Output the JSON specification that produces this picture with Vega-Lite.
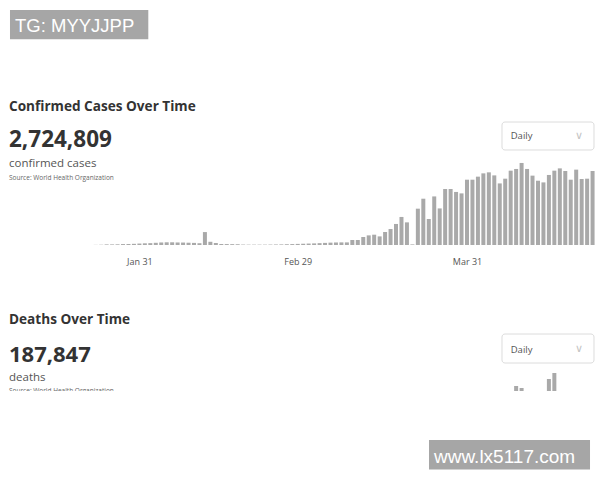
{
  "$schema": "https://vega.github.io/schema/vega-lite/v6.json",
  "padding": 0,
  "background": "white",
  "bounds": "flush",
  "spacing": 55,
  "config": {"view": {"stroke": null}, "font": "Open Sans", "scale": {"continuousPadding": 0}},
  "datasets": {
    "daily": [
      {"date":"2020-01-23","cases":150,"deaths":8},
      {"date":"2020-01-24","cases":300,"deaths":16},
      {"date":"2020-01-25","cases":700,"deaths":15},
      {"date":"2020-01-26","cases":700,"deaths":24},
      {"date":"2020-01-27","cases":800,"deaths":26},
      {"date":"2020-01-28","cases":1100,"deaths":26},
      {"date":"2020-01-29","cases":1200,"deaths":38},
      {"date":"2020-01-30","cases":1400,"deaths":43},
      {"date":"2020-01-31","cases":1700,"deaths":46},
      {"date":"2020-02-01","cases":2000,"deaths":45},
      {"date":"2020-02-02","cases":2200,"deaths":57},
      {"date":"2020-02-03","cases":2600,"deaths":64},
      {"date":"2020-02-04","cases":3000,"deaths":66},
      {"date":"2020-02-05","cases":3200,"deaths":73},
      {"date":"2020-02-06","cases":3200,"deaths":73},
      {"date":"2020-02-07","cases":3000,"deaths":86},
      {"date":"2020-02-08","cases":2900,"deaths":89},
      {"date":"2020-02-09","cases":2700,"deaths":97},
      {"date":"2020-02-10","cases":2500,"deaths":108},
      {"date":"2020-02-11","cases":2100,"deaths":97},
      {"date":"2020-02-12","cases":15300,"deaths":254},
      {"date":"2020-02-13","cases":3800,"deaths":121},
      {"date":"2020-02-14","cases":2400,"deaths":143},
      {"date":"2020-02-15","cases":1200,"deaths":142},
      {"date":"2020-02-16","cases":1100,"deaths":105},
      {"date":"2020-02-17","cases":1000,"deaths":98},
      {"date":"2020-02-18","cases":900,"deaths":136},
      {"date":"2020-02-19","cases":500,"deaths":115},
      {"date":"2020-02-20","cases":400,"deaths":118},
      {"date":"2020-02-21","cases":400,"deaths":109},
      {"date":"2020-02-22","cases":400,"deaths":97},
      {"date":"2020-02-23","cases":400,"deaths":150},
      {"date":"2020-02-24","cases":500,"deaths":71},
      {"date":"2020-02-25","cases":600,"deaths":52},
      {"date":"2020-02-26","cases":700,"deaths":29},
      {"date":"2020-02-27","cases":900,"deaths":44},
      {"date":"2020-02-28","cases":1100,"deaths":47},
      {"date":"2020-02-29","cases":1300,"deaths":35},
      {"date":"2020-03-01","cases":1500,"deaths":42},
      {"date":"2020-03-02","cases":1700,"deaths":66},
      {"date":"2020-03-03","cases":1900,"deaths":38},
      {"date":"2020-03-04","cases":2200,"deaths":57},
      {"date":"2020-03-05","cases":2500,"deaths":64},
      {"date":"2020-03-06","cases":2800,"deaths":65},
      {"date":"2020-03-07","cases":3000,"deaths":101},
      {"date":"2020-03-08","cases":3100,"deaths":103},
      {"date":"2020-03-09","cases":3100,"deaths":200},
      {"date":"2020-03-10","cases":5900,"deaths":210},
      {"date":"2020-03-11","cases":5900,"deaths":270},
      {"date":"2020-03-12","cases":9500,"deaths":330},
      {"date":"2020-03-13","cases":11400,"deaths":390},
      {"date":"2020-03-14","cases":12200,"deaths":430},
      {"date":"2020-03-15","cases":10200,"deaths":360},
      {"date":"2020-03-16","cases":15400,"deaths":830},
      {"date":"2020-03-17","cases":18900,"deaths":960},
      {"date":"2020-03-18","cases":24900,"deaths":840},
      {"date":"2020-03-19","cases":33200,"deaths":1100},
      {"date":"2020-03-20","cases":26800,"deaths":1300},
      {"date":"2020-03-21","cases":700,"deaths":1400},
      {"date":"2020-03-22","cases":43000,"deaths":1700},
      {"date":"2020-03-23","cases":54800,"deaths":1800},
      {"date":"2020-03-24","cases":30800,"deaths":1700},
      {"date":"2020-03-25","cases":57500,"deaths":2400},
      {"date":"2020-03-26","cases":43300,"deaths":2300},
      {"date":"2020-03-27","cases":66300,"deaths":2800},
      {"date":"2020-03-28","cases":66300,"deaths":3400},
      {"date":"2020-03-29","cases":62800,"deaths":3200},
      {"date":"2020-03-30","cases":61100,"deaths":3500},
      {"date":"2020-03-31","cases":77300,"deaths":3800},
      {"date":"2020-04-01","cases":77300,"deaths":4400},
      {"date":"2020-04-02","cases":80900,"deaths":4800},
      {"date":"2020-04-03","cases":84800,"deaths":5200},
      {"date":"2020-04-04","cases":86000,"deaths":5800},
      {"date":"2020-04-05","cases":82400,"deaths":6200},
      {"date":"2020-04-06","cases":72900,"deaths":5000},
      {"date":"2020-04-07","cases":78500,"deaths":5600},
      {"date":"2020-04-08","cases":88000,"deaths":6400},
      {"date":"2020-04-09","cases":90000,"deaths":7200},
      {"date":"2020-04-10","cases":97100,"deaths":7000},
      {"date":"2020-04-11","cases":90000,"deaths":6600},
      {"date":"2020-04-12","cases":82100,"deaths":5900},
      {"date":"2020-04-13","cases":76100,"deaths":5400},
      {"date":"2020-04-14","cases":74100,"deaths":5500},
      {"date":"2020-04-15","cases":82900,"deaths":7900},
      {"date":"2020-04-16","cases":88000,"deaths":8500},
      {"date":"2020-04-17","cases":90700,"deaths":6600},
      {"date":"2020-04-18","cases":87600,"deaths":6300},
      {"date":"2020-04-19","cases":77300,"deaths":5900},
      {"date":"2020-04-20","cases":89200,"deaths":4700},
      {"date":"2020-04-21","cases":78100,"deaths":5300},
      {"date":"2020-04-22","cases":78500,"deaths":6500},
      {"date":"2020-04-23","cases":87600,"deaths":6500}
    ]
  },
  "vconcat": [
    {
      "width": 600,
      "height": 245,
      "layer": [
        {
          "data": {"name": "daily"},
          "mark": {"type": "bar", "width": 4, "color": "#a9a9a9"},
          "encoding": {
            "x": {
              "field": "date", "type": "temporal",
              "scale": {"type": "utc", "nice": false, "padding": 0, "domain": [
                {"year": 2020, "month": 1, "date": 5, "hours": 11, "minutes": 17, "utc": true},
                {"year": 2020, "month": 4, "date": 24, "hours": 8, "minutes": 38, "utc": true}
              ]},
              "axis": {
                "title": null, "format": "%b %d",
                "values": [
                  {"year": 2020, "month": 1, "date": 31, "utc": true},
                  {"year": 2020, "month": 2, "date": 29, "utc": true},
                  {"year": 2020, "month": 3, "date": 31, "utc": true}
                ],
                "ticks": false, "domain": false, "grid": false,
                "labelPadding": 12, "labelFont": "Open Sans", "labelFontSize": 9, "labelColor": "#555"
              }
            },
            "y": {"field": "cases", "type": "quantitative", "scale": {"domain": [0, 290000], "nice": false, "zero": false}, "axis": null},
            "y2": {"datum": 0}
          }
        },
        {
          "data": {"values": [{"tag": "TG: MYYJJPP"}]},
          "mark": {"type": "rect", "color": "#a6a6a6"},
          "encoding": {
            "x": {"datum": {"year": 2020, "month": 1, "date": 7, "hours": 7, "minutes": 13, "utc": true}, "type": "temporal"},
            "x2": {"datum": {"year": 2020, "month": 2, "date": 1, "hours": 15, "minutes": 9, "utc": true}},
            "y": {"datum": 278162, "type": "quantitative", "axis": null},
            "y2": {"datum": 243482}
          }
        },
        {
          "data": {"values": [{"tag": "TG: MYYJJPP"}]},
          "mark": {"type": "text", "align": "left", "baseline": "alphabetic", "font": "Liberation Sans", "fontSize": 18.5, "color": "white"},
          "encoding": {
            "x": {"datum": {"year": 2020, "month": 1, "date": 8, "hours": 5, "minutes": 13, "utc": true}, "type": "temporal"},
            "y": {"datum": 252477, "type": "quantitative", "axis": null},
            "text": {"field": "tag"}
          }
        },
        {
          "data": {"values": [{"label": "Confirmed Cases Over Time"}]},
          "mark": {"type": "text", "align": "left", "baseline": "alphabetic", "font": "Open Sans", "fontSize": 13.6, "fontWeight": "bold", "color": "#333"},
          "encoding": {
            "x": {"datum": {"year": 2020, "month": 1, "date": 7, "hours": 2, "minutes": 50, "utc": true}, "type": "temporal"},
            "y": {"datum": 158967, "type": "quantitative", "axis": null},
            "text": {"field": "label"}
          }
        },
        {
          "data": {"values": [{"label": "2,724,809"}]},
          "mark": {"type": "text", "align": "left", "baseline": "alphabetic", "font": "Open Sans", "fontSize": 22.5, "fontWeight": "bold", "color": "#333"},
          "encoding": {
            "x": {"datum": {"year": 2020, "month": 1, "date": 7, "hours": 2, "minutes": 50, "utc": true}, "type": "temporal"},
            "y": {"datum": 115645, "type": "quantitative", "axis": null},
            "text": {"field": "label"}
          }
        },
        {
          "data": {"values": [{"label": "confirmed cases"}]},
          "mark": {"type": "text", "align": "left", "baseline": "alphabetic", "font": "Open Sans", "fontSize": 11.5, "color": "#555"},
          "encoding": {
            "x": {"datum": {"year": 2020, "month": 1, "date": 7, "hours": 2, "minutes": 50, "utc": true}, "type": "temporal"},
            "y": {"datum": 91971, "type": "quantitative", "axis": null},
            "text": {"field": "label"}
          }
        },
        {
          "data": {"values": [{"label": "Source:  World Health Organization"}]},
          "mark": {"type": "text", "align": "left", "baseline": "alphabetic", "font": "Open Sans", "fontSize": 6.5, "color": "#666"},
          "encoding": {
            "x": {"datum": {"year": 2020, "month": 1, "date": 7, "hours": 2, "minutes": 50, "utc": true}, "type": "temporal"},
            "y": {"datum": 76939, "type": "quantitative", "axis": null},
            "text": {"field": "label"}
          }
        },
        {
          "data": {"values": [{"label": "Daily"}]},
          "mark": {"type": "rect", "fill": "white", "stroke": "#dcdcdc", "strokeWidth": 1, "cornerRadius": 3},
          "encoding": {
            "x": {"datum": {"year": 2020, "month": 4, "date": 6, "hours": 9, "minutes": 50, "utc": true}, "type": "temporal"},
            "x2": {"datum": {"year": 2020, "month": 4, "date": 23, "hours": 6, "minutes": 14, "utc": true}},
            "y": {"datum": 145591, "type": "quantitative", "axis": null},
            "y2": {"datum": 112449}
          }
        },
        {
          "data": {"values": [{"label": "Daily"}]},
          "mark": {"type": "text", "align": "left", "baseline": "alphabetic", "font": "Open Sans", "fontSize": 9.5, "color": "#555"},
          "encoding": {
            "x": {"datum": {"year": 2020, "month": 4, "date": 8, "hours": 0, "minutes": 9, "utc": true}, "type": "temporal"},
            "y": {"datum": 125469, "type": "quantitative", "axis": null},
            "text": {"field": "label"}
          }
        },
        {
          "data": {"values": [{"label": "∨"}]},
          "mark": {"type": "text", "align": "center", "baseline": "middle", "font": "DejaVu Sans", "fontSize": 11, "color": "#c4c4c4"},
          "encoding": {
            "x": {"datum": {"year": 2020, "month": 4, "date": 20, "hours": 12, "minutes": 23, "utc": true}, "type": "temporal"},
            "y": {"datum": 129020, "type": "quantitative", "axis": null},
            "text": {"field": "label"}
          }
        }
      ]
    },
    {
      "width": 600,
      "height": 91,
      "layer": [
        {
          "data": {"name": "daily"},
          "mark": {"type": "bar", "width": 4, "color": "#a9a9a9", "clip": true},
          "encoding": {
            "x": {
              "field": "date", "type": "temporal",
              "scale": {"type": "utc", "nice": false, "padding": 0, "domain": [
                {"year": 2020, "month": 1, "date": 5, "hours": 11, "minutes": 17, "utc": true},
                {"year": 2020, "month": 4, "date": 24, "hours": 8, "minutes": 38, "utc": true}
              ]},
              "axis": null
            },
            "y": {"field": "deaths", "type": "quantitative", "scale": {"domain": [6700, 15800], "nice": false, "zero": false}, "axis": null},
            "y2": {"datum": 0}
          }
        },
        {
          "data": {"values": [{"label": "Deaths Over Time"}]},
          "mark": {"type": "text", "align": "left", "baseline": "alphabetic", "font": "Open Sans", "fontSize": 13.6, "fontWeight": "bold", "color": "#333"},
          "encoding": {
            "x": {"datum": {"year": 2020, "month": 1, "date": 7, "hours": 2, "minutes": 50, "utc": true}, "type": "temporal", "axis": null},
            "y": {"datum": 13400, "type": "quantitative", "axis": null},
            "text": {"field": "label"}
          }
        },
        {
          "data": {"values": [{"label": "187,847"}]},
          "mark": {"type": "text", "align": "left", "baseline": "alphabetic", "font": "Open Sans", "fontSize": 22, "fontWeight": "bold", "color": "#333"},
          "encoding": {
            "x": {"datum": {"year": 2020, "month": 1, "date": 7, "hours": 2, "minutes": 50, "utc": true}, "type": "temporal", "axis": null},
            "y": {"datum": 9600, "type": "quantitative", "axis": null},
            "text": {"field": "label"}
          }
        },
        {
          "data": {"values": [{"label": "deaths"}]},
          "mark": {"type": "text", "align": "left", "baseline": "alphabetic", "font": "Open Sans", "fontSize": 11.5, "color": "#555"},
          "encoding": {
            "x": {"datum": {"year": 2020, "month": 1, "date": 7, "hours": 2, "minutes": 50, "utc": true}, "type": "temporal", "axis": null},
            "y": {"datum": 7700, "type": "quantitative", "axis": null},
            "text": {"field": "label"}
          }
        },
        {
          "data": {"values": [{"label": "Source:  World Health Organization"}]},
          "mark": {"type": "text", "align": "left", "baseline": "alphabetic", "font": "Open Sans", "fontSize": 6.5, "color": "#666", "clip": true},
          "encoding": {
            "x": {"datum": {"year": 2020, "month": 1, "date": 7, "hours": 2, "minutes": 50, "utc": true}, "type": "temporal", "axis": null},
            "y": {"datum": 6500, "type": "quantitative", "axis": null},
            "text": {"field": "label"}
          }
        },
        {
          "data": {"values": [{"label": "Daily"}]},
          "mark": {"type": "rect", "fill": "white", "stroke": "#dcdcdc", "strokeWidth": 1, "cornerRadius": 3},
          "encoding": {
            "x": {"datum": {"year": 2020, "month": 4, "date": 6, "hours": 9, "minutes": 50, "utc": true}, "type": "temporal", "axis": null},
            "x2": {"datum": {"year": 2020, "month": 4, "date": 23, "hours": 6, "minutes": 14, "utc": true}},
            "y": {"datum": 12400, "type": "quantitative", "axis": null},
            "y2": {"datum": 9500}
          }
        },
        {
          "data": {"values": [{"label": "Daily"}]},
          "mark": {"type": "text", "align": "left", "baseline": "alphabetic", "font": "Open Sans", "fontSize": 9.5, "color": "#555"},
          "encoding": {
            "x": {"datum": {"year": 2020, "month": 4, "date": 8, "hours": 0, "minutes": 9, "utc": true}, "type": "temporal", "axis": null},
            "y": {"datum": 10550, "type": "quantitative", "axis": null},
            "text": {"field": "label"}
          }
        },
        {
          "data": {"values": [{"label": "∨"}]},
          "mark": {"type": "text", "align": "center", "baseline": "middle", "font": "DejaVu Sans", "fontSize": 11, "color": "#c4c4c4"},
          "encoding": {
            "x": {"datum": {"year": 2020, "month": 4, "date": 20, "hours": 12, "minutes": 23, "utc": true}, "type": "temporal", "axis": null},
            "y": {"datum": 10900, "type": "quantitative", "axis": null},
            "text": {"field": "label"}
          }
        },
        {
          "data": {"values": [{"tag": "www.lx5117.com"}]},
          "mark": {"type": "rect", "color": "#a6a6a6", "clip": false},
          "encoding": {
            "x": {"datum": {"year": 2020, "month": 3, "date": 24, "hours": 1, "minutes": 0, "utc": true}, "type": "temporal", "axis": null},
            "x2": {"datum": {"year": 2020, "month": 4, "date": 22, "hours": 12, "minutes": 43, "utc": true}},
            "y": {"datum": 1800, "type": "quantitative", "axis": null},
            "y2": {"datum": -1150}
          }
        },
        {
          "data": {"values": [{"tag": "www.lx5117.com"}]},
          "mark": {"type": "text", "align": "left", "baseline": "alphabetic", "font": "Liberation Sans", "fontSize": 19, "color": "white", "clip": false},
          "encoding": {
            "x": {"datum": {"year": 2020, "month": 3, "date": 24, "hours": 23, "minutes": 0, "utc": true}, "type": "temporal", "axis": null},
            "y": {"datum": -530, "type": "quantitative", "axis": null},
            "text": {"field": "tag"}
          }
        }
      ]
    }
  ]
}
